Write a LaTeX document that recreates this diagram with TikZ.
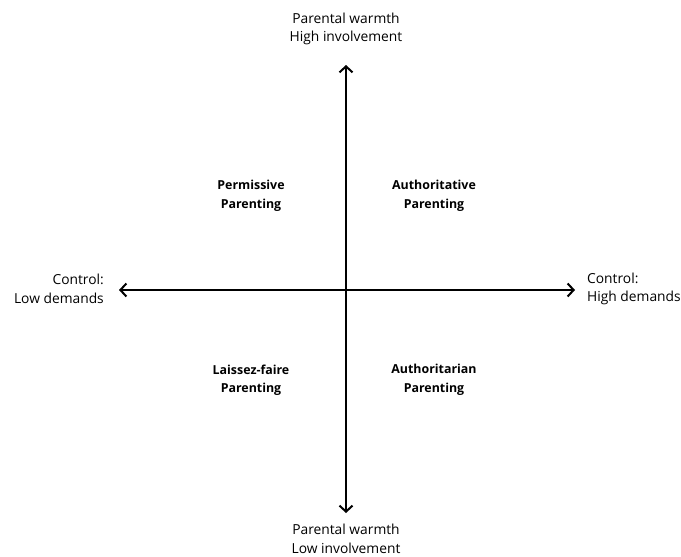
\documentclass[tikz,border=0pt]{standalone}
\usepackage{fontspec}
\setmainfont{Open Sans}
\usetikzlibrary{arrows.meta}
\begin{document}
\begin{tikzpicture}[x=1pt,y=-1pt,
  axis/.style={line width=1.8pt,{Straight Barb[length=6pt,width=13pt,line width=2pt]}-{Straight Barb[length=6pt,width=13pt,line width=2pt]}},
  endlabel/.style={font=\fontsize{13.8}{18.5}\selectfont,align=center,inner sep=0pt},
  quad/.style={font=\fontsize{12.4}{18.5}\selectfont\bfseries,align=center,inner sep=0pt}]
\useasboundingbox (0,0) rectangle (681,557);
\coordinate (top) at (346,65);
\coordinate (bot) at (346,513);
\coordinate (left) at (119,290);
\coordinate (right) at (575,290);
\draw[axis] (bot) -- (top);
\draw[axis] (left) -- (right);
\node[endlabel] (tl) at (346,29) {Parental warmth\\High involvement};
\node[endlabel] (bl) at (346,539) {Parental warmth\\Low involvement};
\node[endlabel,anchor=east,align=right] (ll) at (104,289) {Control:\\Low demands};
\node[endlabel,anchor=west,align=left] (rl) at (587,289) {Control:\\High demands};
\node[quad] (perm) at (251,196) {Permissive\\Parenting};
\node[quad] (auth) at (434,196) {Authoritative\\Parenting};
\node[quad] (laiss) at (251,380) {Laissez-faire\\Parenting};
\node[quad] (autht) at (434,380) {Authoritarian\\Parenting};
\end{tikzpicture}
\end{document}
